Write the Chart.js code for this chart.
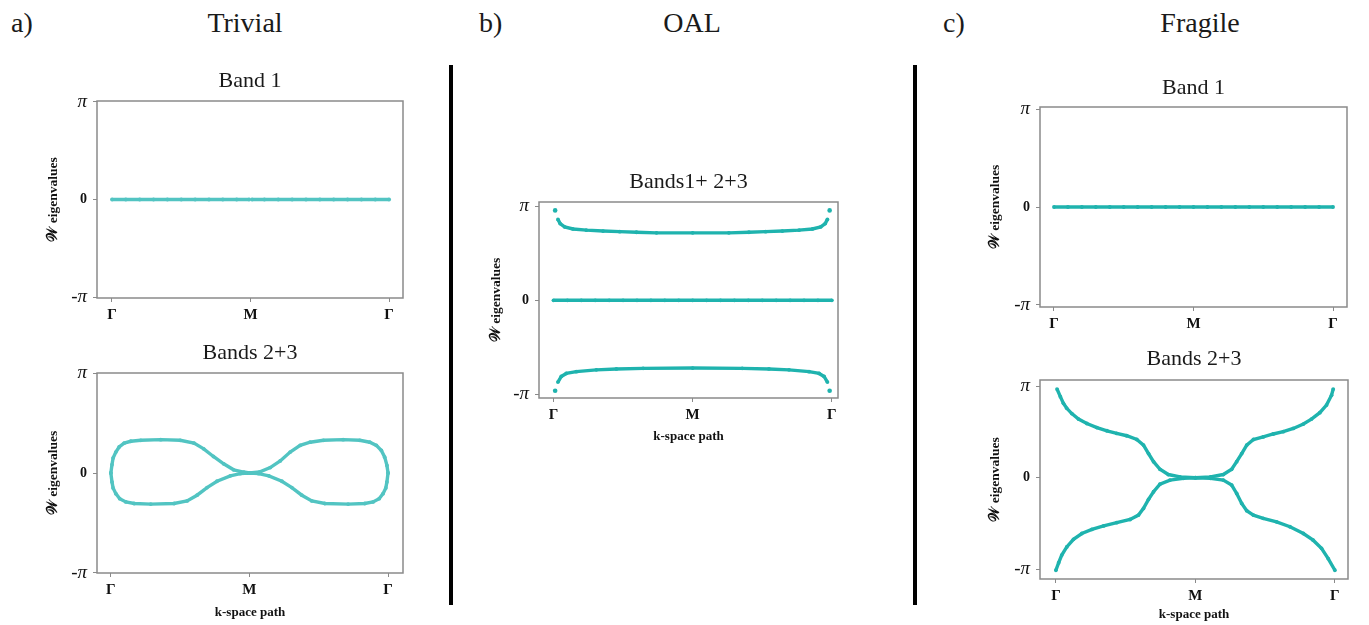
<!DOCTYPE html>
<html>
<head>
<meta charset="utf-8">
<script src="https://cdn.jsdelivr.net/npm/chart.js@4.4.1/dist/chart.umd.min.js"></script>
<style>
  body { margin: 0; background: #fff; width: 1369px; height: 625px; position: relative; overflow: hidden; }
  .hdr { position: absolute; top: 9px; font: 28px/28px "Liberation Serif", serif; color: #1a1a1a; white-space: nowrap; }
  .sep { position: absolute; top: 65px; width: 4px; height: 540px; background: #000; }
  .panel { position: absolute; }
</style>
</head>
<body>
<div class="hdr" style="left:11px">a)</div>
<div class="hdr" style="left:185px;width:120px;text-align:center">Trivial</div>
<div class="hdr" style="left:479px">b)</div>
<div class="hdr" style="left:632px;width:120px;text-align:center">OAL</div>
<div class="hdr" style="left:943px">c)</div>
<div class="hdr" style="left:1140px;width:120px;text-align:center">Fragile</div>
<div class="sep" style="left:449px"></div>
<div class="sep" style="left:913px"></div>

<canvas id="trivialBand1" class="panel"></canvas>
<canvas id="trivialBands23" class="panel"></canvas>
<canvas id="oalBands" class="panel"></canvas>
<canvas id="fragileBand1" class="panel"></canvas>
<canvas id="fragileBands23" class="panel"></canvas>

<script>
// Tick labels along the k-space path and on the Wilson loop axis
const kTickValues = [0, 0.5, 1];
const kTickLabels = ['Γ', 'M', 'Γ'];
const wTickValues = [-Math.PI, 0, Math.PI];
const wTickLabels = ['-π', '0', 'π'];

// Flat band (zero eigenvalue) sampled along the path
const flatK = [0, 0.05, 0.1, 0.15, 0.2, 0.25, 0.3, 0.35, 0.4, 0.45, 0.5, 0.55, 0.6, 0.65, 0.7, 0.75, 0.8, 0.85, 0.9, 0.95, 1];
const flatW = [0, 0, 0, 0, 0, 0, 0, 0, 0, 0, 0, 0, 0, 0, 0, 0, 0, 0, 0, 0, 0];

// Trivial, band 1 (two halves with a tiny gap at M)
const trivialB1LeftK = [0, 0.05, 0.1, 0.15, 0.2, 0.25, 0.3, 0.35, 0.4, 0.45, 0.495];
const trivialB1LeftW = [0, 0, 0, 0, 0, 0, 0, 0, 0, 0, 0];
const trivialB1RightK = [0.505, 0.55, 0.6, 0.65, 0.7, 0.75, 0.8, 0.85, 0.9, 0.95, 1];
const trivialB1RightW = [0, 0, 0, 0, 0, 0, 0, 0, 0, 0, 0];

// Trivial, bands 2+3
const trivialUpperK = [0, 0.004, 0.008, 0.018, 0.03, 0.048, 0.072, 0.108, 0.18, 0.25, 0.3, 0.335, 0.37, 0.407, 0.443, 0.479, 0.5,
  0.536, 0.575, 0.611, 0.647, 0.683, 0.719, 0.767, 0.838, 0.898, 0.934, 0.958, 0.976, 0.988, 0.996, 1];
const trivialUpperW = [0, 0.26, 0.47, 0.66, 0.82, 0.94, 1.0, 1.03, 1.05, 1.03, 0.94, 0.76, 0.52, 0.29, 0.1, 0.03, 0,
  0.03, 0.17, 0.38, 0.66, 0.87, 0.97, 1.03, 1.05, 1.03, 0.97, 0.87, 0.71, 0.5, 0.24, 0];
const trivialLowerK = [0, 0.004, 0.008, 0.018, 0.032, 0.054, 0.084, 0.144, 0.228, 0.275, 0.311, 0.347, 0.383, 0.431, 0.467, 0.5,
  0.533, 0.57, 0.617, 0.653, 0.689, 0.725, 0.772, 0.856, 0.916, 0.946, 0.968, 0.982, 0.992, 0.996, 1];
const trivialLowerW = [0, -0.28, -0.47, -0.65, -0.81, -0.91, -0.96, -0.98, -0.96, -0.88, -0.7, -0.46, -0.26, -0.09, -0.02, 0,
  -0.02, -0.09, -0.26, -0.46, -0.7, -0.88, -0.96, -0.98, -0.96, -0.91, -0.81, -0.65, -0.47, -0.28, 0];

// OAL, bands 1+2+3
const oalUpperK = [0.016, 0.024, 0.04, 0.07, 0.118, 0.178, 0.238, 0.298, 0.37, 0.5, 0.63, 0.702, 0.762, 0.822, 0.882, 0.93, 0.96, 0.976, 0.984];
const oalUpperW = [2.7, 2.56, 2.45, 2.38, 2.34, 2.31, 2.29, 2.27, 2.25, 2.25, 2.25, 2.27, 2.29, 2.31, 2.34, 2.38, 2.45, 2.56, 2.7];
const oalLowerK = [0.016, 0.028, 0.046, 0.082, 0.154, 0.226, 0.322, 0.5, 0.678, 0.774, 0.846, 0.918, 0.954, 0.972, 0.984];
const oalLowerW = [-2.73, -2.54, -2.44, -2.38, -2.32, -2.29, -2.27, -2.26, -2.27, -2.29, -2.32, -2.38, -2.44, -2.54, -2.73];
const oalEndK = [0.006, 0.006, 0.992, 0.992];
const oalEndW = [3.0, -3.02, 3.0, -3.02];

// Fragile, bands 2+3
const fragileUpperK = [0.004, 0.016, 0.027, 0.039, 0.057, 0.081, 0.111, 0.147, 0.183, 0.218, 0.254, 0.29, 0.314, 0.332, 0.35, 0.373, 0.403, 0.445, 0.5,
  0.554, 0.6, 0.63, 0.648, 0.666, 0.684, 0.708, 0.743, 0.779, 0.815, 0.851, 0.887, 0.916, 0.946, 0.97, 0.988, 0.994];
const fragileUpperW = [3.04, 2.78, 2.55, 2.38, 2.2, 2.01, 1.86, 1.72, 1.61, 1.52, 1.44, 1.31, 1.12, 0.83, 0.55, 0.29, 0.11, 0.03, 0,
  0.03, 0.11, 0.29, 0.55, 0.83, 1.12, 1.31, 1.4, 1.5, 1.58, 1.69, 1.84, 2.01, 2.23, 2.49, 2.83, 3.04];
const fragileLowerK = [0, 0.01, 0.021, 0.039, 0.063, 0.093, 0.129, 0.171, 0.218, 0.266, 0.296, 0.314, 0.332, 0.35, 0.373, 0.409, 0.457, 0.5,
  0.554, 0.6, 0.63, 0.648, 0.666, 0.684, 0.708, 0.743, 0.791, 0.839, 0.887, 0.922, 0.952, 0.976, 1];
const fragileLowerW = [-3.17, -2.91, -2.65, -2.37, -2.11, -1.91, -1.77, -1.65, -1.54, -1.43, -1.28, -1.05, -0.74, -0.48, -0.22, -0.08, -0.02, 0,
  -0.02, -0.08, -0.25, -0.54, -0.88, -1.13, -1.28, -1.39, -1.51, -1.68, -1.91, -2.14, -2.42, -2.77, -3.17];

const SERIF = '"Liberation Serif", "DejaVu Serif", serif';
Chart.defaults.font.family = SERIF;
Chart.defaults.color = '#111';

function toPoints(k, w) {
    return k.map((x, i) => ({ x: x, y: w[i] }));
}

// Curve drawn as a dense chain of dots
function band(k, w, color) {
    return {
        data: toPoints(k, w),
        showLine: true,
        borderColor: color,
        borderWidth: 3.4,
        pointRadius: 1.9,
        pointBackgroundColor: color,
        pointBorderWidth: 0
    };
}

function dots(k, w, color) {
    return {
        data: toPoints(k, w),
        showLine: false,
        pointRadius: 2.3,
        pointBackgroundColor: color,
        pointBorderWidth: 0
    };
}

// Axes box like matplotlib spines
const framePlugin = {
    id: 'frame',
    beforeDatasetsDraw(chart) {
        const a = chart.chartArea;
        const ctx = chart.ctx;
        ctx.save();
        ctx.strokeStyle = '#8a8a8a';
        ctx.lineWidth = 1.5;
        ctx.strokeRect(a.left, a.top, a.right - a.left, a.bottom - a.top);
        ctx.restore();
    }
};

function makePanel(id, p) {
    const cv = document.getElementById(id);
    const width = p.axisW + p.boxW + 10;
    const height = 41 + p.boxH + p.xAxisH;
    cv.width = width;
    cv.height = height;
    cv.style.left = p.left + 'px';
    cv.style.top = p.top + 'px';

    new Chart(cv, {
        type: 'scatter',
        data: { datasets: p.datasets },
        plugins: [framePlugin],
        options: {
            responsive: false,
            animation: false,
            layout: { padding: { left: 0, right: 10, top: 0, bottom: 0 } },
            plugins: {
                legend: { display: false },
                tooltip: { enabled: false },
                title: {
                    display: true,
                    text: p.title,
                    fullSize: false,
                    color: '#1a1a1a',
                    font: { size: 22, weight: 'normal', lineHeight: 1.2 },
                    padding: { top: p.titleTop, bottom: 41 - 26.4 - p.titleTop }
                }
            },
            scales: {
                x: {
                    type: 'linear',
                    min: p.xMin,
                    max: p.xMax,
                    afterBuildTicks: s => { s.ticks = kTickValues.map(v => ({ value: v })); },
                    afterFit: s => { s.height = p.xAxisH; },
                    ticks: {
                        autoSkip: false,
                        maxRotation: 0,
                        padding: 4,
                        callback: (v, i) => kTickLabels[i],
                        font: { size: 15, weight: 'bold' }
                    },
                    grid: { display: true, drawOnChartArea: false, drawTicks: true, tickLength: 4, color: '#8a8a8a' },
                    border: { display: false },
                    title: {
                        display: !!p.xTitle,
                        text: p.xTitle || '',
                        font: { size: 13, weight: 'bold', lineHeight: 1.2 },
                        padding: { top: 0, bottom: p.xTitleBottom || 0 }
                    }
                },
                y: {
                    type: 'linear',
                    min: p.yMin,
                    max: p.yMax,
                    afterBuildTicks: s => { s.ticks = wTickValues.map(v => ({ value: v })); },
                    afterFit: s => { s.width = p.axisW; },
                    ticks: {
                        autoSkip: false,
                        padding: 6,
                        callback: (v, i) => wTickLabels[i],
                        font: c => (c.tick && c.tick.value === 0)
                            ? { family: SERIF, size: 14, weight: 'bold', lineHeight: 1.2 }
                            : { family: SERIF, size: 19, style: 'italic', weight: 'normal', lineHeight: 1.2 }
                    },
                    grid: { display: true, drawOnChartArea: false, drawTicks: true, tickLength: 4, color: '#8a8a8a' },
                    border: { display: false },
                    title: {
                        display: true,
                        text: '𝒲 eigenvalues',
                        font: { size: 13.5, weight: 'bold', lineHeight: 1.2 },
                        padding: { top: p.yTitleTop, bottom: 0 }
                    }
                }
            }
        }
    });
}

const trivialColor = '#52c4c2';
const tealColor = '#1fb3ae';

makePanel('trivialBand1', {
    left: 37, top: 60, axisW: 60, boxW: 306, boxH: 197, xAxisH: 25,
    title: 'Band 1', titleTop: 8.1, yTitleTop: 8.2,
    xMin: -0.054, xMax: 1.05, yMin: -3.17, yMax: 3.17,
    datasets: [
        band(trivialB1LeftK, trivialB1LeftW, trivialColor),
        band(trivialB1RightK, trivialB1RightW, trivialColor)
    ]
});

makePanel('trivialBands23', {
    left: 37, top: 332, axisW: 60, boxW: 306, boxH: 200, xAxisH: 50,
    title: 'Bands 2+3', titleTop: 8.1, yTitleTop: 8.2,
    xTitle: 'k-space path', xTitleBottom: 2.2,
    xMin: -0.05, xMax: 1.054, yMin: -3.15, yMax: 3.15,
    datasets: [
        band(trivialUpperK, trivialUpperW, trivialColor),
        band(trivialLowerK, trivialLowerW, trivialColor)
    ]
});

makePanel('oalBands', {
    left: 479, top: 161, axisW: 60, boxW: 299, boxH: 196, xAxisH: 50,
    title: 'Bands1+ 2+3', titleTop: 8.1, yTitleTop: 9.9,
    xTitle: 'k-space path', xTitleBottom: 3.5,
    xMin: -0.052, xMax: 1.022, yMin: -3.26, yMax: 3.28,
    datasets: [
        band(oalUpperK, oalUpperW, tealColor),
        band(flatK, flatW, tealColor),
        band(oalLowerK, oalLowerW, tealColor),
        dots(oalEndK, oalEndW, tealColor)
    ]
});

makePanel('fragileBand1', {
    left: 980, top: 66, axisW: 60, boxW: 307, boxH: 200, xAxisH: 25,
    title: 'Band 1', titleTop: 9.1, yTitleTop: 7.2,
    xMin: -0.05, xMax: 1.05, yMin: -3.21, yMax: 3.21,
    datasets: [
        band(flatK, flatW, tealColor)
    ]
});

makePanel('fragileBands23', {
    left: 980, top: 339, axisW: 60, boxW: 308, boxH: 199, xAxisH: 50,
    title: 'Bands 2+3', titleTop: 6.8, yTitleTop: 7.2,
    xTitle: 'k-space path', xTitleBottom: 6.2,
    xMin: -0.057, xMax: 1.047, yMin: -3.47, yMax: 3.35,
    datasets: [
        band(fragileUpperK, fragileUpperW, tealColor),
        band(fragileLowerK, fragileLowerW, tealColor)
    ]
});
</script>
</body>
</html>
